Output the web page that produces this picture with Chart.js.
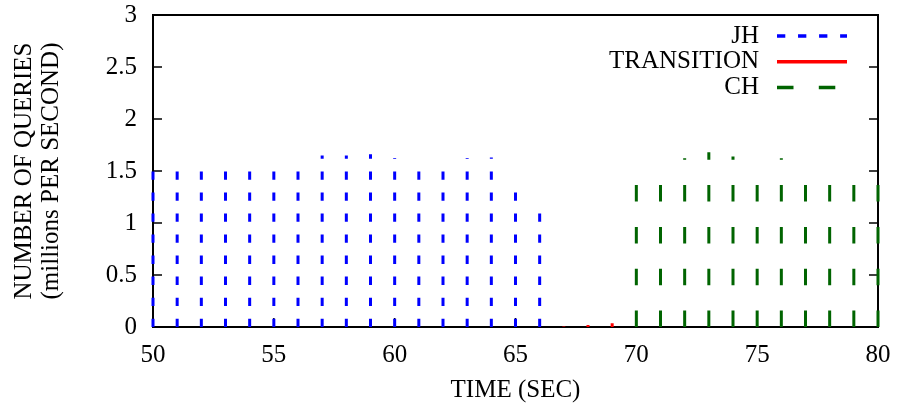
<!DOCTYPE html>
<html>
<head>
<meta charset="utf-8">
<script src="https://cdn.jsdelivr.net/npm/chart.js@4"></script>
<style>
  body { margin: 0; background: #fff; }
</style>
</head>
<body>
<canvas id="qpsChart" width="898" height="405"></canvas>
<script>
// queries per second (millions), one impulse per second
const jhTime = [50, 51, 52, 53, 54, 55, 56, 57, 58, 59, 60, 61, 62, 63, 64, 65, 66];
const jhQps = [1.53, 1.55, 1.56, 1.55, 1.57, 1.58, 1.59, 1.65, 1.65, 1.66, 1.625, 1.6, 1.59, 1.625, 1.63, 1.33, 1.13];
const transTime = [67, 68, 69];
const transQps = [0.005, 0.02, 0.035];
const chTime = [70, 71, 72, 73, 74, 75, 76, 77, 78, 79, 80];
const chQps = [1.55, 1.58, 1.622, 1.68, 1.64, 1.6, 1.622, 1.59, 1.58, 1.57, 1.56];
const seriesLabels = ["JH", "TRANSITION", "CH"];

const FONT = "Liberation Serif";

// gnuplot style impulses: a vertical segment from 0 up to the value, gaps between
function impulses(times, values) {
    return times.flatMap((t, i) => [
        { x: t, y: 0 },
        { x: t, y: values[i] },
        { x: t, y: null },
    ]);
}

// frame + inward ticks, drawn under the data
const framePlugin = {
    id: "frame",
    beforeDatasetsDraw(chart) {
        const { ctx, chartArea: a, scales } = chart;
        ctx.save();
        ctx.strokeStyle = "#000";
        ctx.lineWidth = 2;
        ctx.strokeRect(a.left, a.top, a.right - a.left, a.bottom - a.top);
        ctx.lineWidth = 1.5;
        ctx.beginPath();
        scales.y.ticks.forEach(t => {
            const py = scales.y.getPixelForValue(t.value);
            ctx.moveTo(a.left, py);
            ctx.lineTo(a.left + 9, py);
            ctx.moveTo(a.right, py);
            ctx.lineTo(a.right - 9, py);
        });
        scales.x.ticks.forEach(t => {
            const px = scales.x.getPixelForValue(t.value);
            ctx.moveTo(px, a.bottom);
            ctx.lineTo(px, a.bottom - 9);
        });
        ctx.stroke();
        ctx.restore();
    },
};

// key in the top right: text right aligned, line sample after it
const keyPlugin = {
    id: "key",
    afterDraw(chart) {
        const { ctx } = chart;
        ctx.save();
        ctx.font = "25px " + FONT;
        ctx.textAlign = "right";
        ctx.textBaseline = "middle";
        chart.data.datasets.forEach((ds, i) => {
            const y = 36 + i * 25.8;
            ctx.fillStyle = "#000";
            ctx.fillText(ds.label, 759, y);
            ctx.strokeStyle = ds.borderColor;
            ctx.lineWidth = 3.5;
            ctx.setLineDash(ds.borderDash || []);
            ctx.beginPath();
            ctx.moveTo(777, y);
            ctx.lineTo(847, y);
            ctx.stroke();
        });
        ctx.restore();
    },
};

const noOverflow = scale => {
    scale.paddingTop = 0;
    scale.paddingBottom = 0;
    scale.paddingLeft = 0;
    scale.paddingRight = 0;
};

new Chart(document.getElementById("qpsChart"), {
    type: "line",
    data: {
        datasets: [
            {
                label: seriesLabels[0],
                data: impulses(jhTime, jhQps),
                borderColor: "#0000ff",
                borderWidth: 3,
                borderDash: [8.3, 12.74],
            },
            {
                label: seriesLabels[1],
                data: impulses(transTime, transQps),
                borderColor: "#ff0000",
                borderWidth: 3,
            },
            {
                label: seriesLabels[2],
                data: impulses(chTime, chQps),
                borderColor: "#006400",
                borderWidth: 3,
                borderDash: [16.5, 25.3],
            },
        ],
    },
    options: {
        responsive: false,
        animation: false,
        devicePixelRatio: 1,
        spanGaps: false,
        clip: false,
        elements: {
            point: { radius: 0 },
            line: { tension: 0, borderCapStyle: "butt" },
        },
        layout: { padding: { top: 15, right: 20, left: 0, bottom: 0 } },
        plugins: {
            legend: { display: false },
            tooltip: { enabled: false },
        },
        scales: {
            x: {
                type: "linear",
                min: 50,
                max: 80,
                grid: { display: false, drawTicks: false },
                border: { display: false },
                ticks: {
                    stepSize: 5,
                    color: "#000",
                    padding: 13,
                    maxRotation: 0,
                    font: { family: FONT, size: 25 },
                },
                title: {
                    display: true,
                    text: "TIME (SEC)",
                    color: "#000",
                    font: { family: FONT, size: 25, lineHeight: 1 },
                    padding: { top: 0, bottom: 2.5 },
                },
                afterFit(scale) {
                    scale.height = 78;
                    noOverflow(scale);
                },
            },
            y: {
                min: 0,
                max: 3,
                grid: { display: false, drawTicks: false },
                border: { display: false },
                ticks: {
                    stepSize: 0.5,
                    color: "#000",
                    padding: 16,
                    font: { family: FONT, size: 25 },
                    callback: v => String(Math.round(v * 100) / 100),
                },
                title: {
                    display: true,
                    text: ["NUMBER OF QUERIES", "(millions PER SECOND)"],
                    color: "#000",
                    font: { family: FONT, size: 25, lineHeight: "27px" },
                    padding: { top: 10.5, bottom: 0 },
                },
                afterFit(scale) {
                    scale.width = 153;
                    noOverflow(scale);
                },
            },
        },
    },
    plugins: [framePlugin, keyPlugin],
});
</script>
</body>
</html>
